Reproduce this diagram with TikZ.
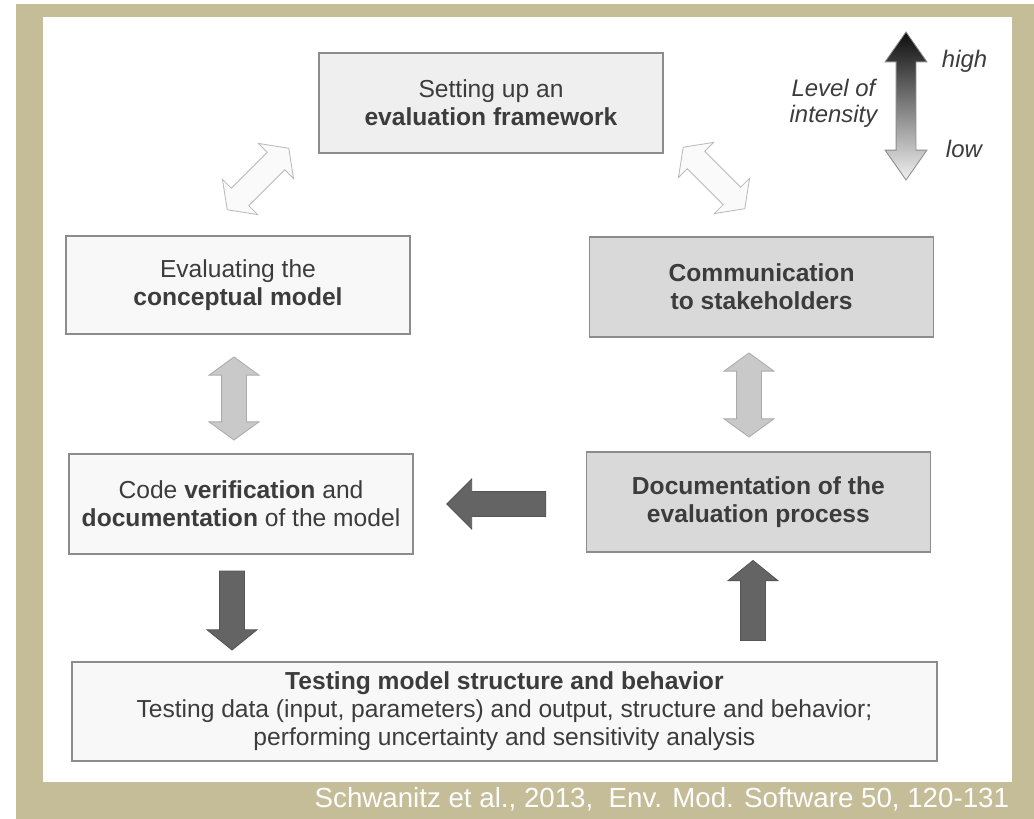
\documentclass[tikz,border=0pt]{standalone}
\usepackage{fontspec}
\setmainfont{Liberation Sans}
\usepackage{tikz}
\usepackage{xcolor}
\usetikzlibrary{positioning, shapes.arrows, calc}
\definecolor{mBeige}{HTML}{C5BC98}
\definecolor{mText}{HTML}{3C3C3C}
\definecolor{mLine}{HTML}{8C8C8C}
\definecolor{mLight}{HTML}{EFEFEF}
\definecolor{mPale}{HTML}{F8F8F8}
\definecolor{mMid}{HTML}{D9D9D9}
\definecolor{mArrow}{HTML}{C9C9C9}
\definecolor{mDark}{HTML}{646464}

\begin{document}
\begin{tikzpicture}[
  stage/.style={draw=mLine, line width=1.2pt, minimum width=8.6cm,
                minimum height=2.5cm, align=center, text=mText, inner sep=0pt,
                font=\fontsize{17.5}{19.9}\selectfont},
  twoway/.style={double arrow, inner xsep=0pt, inner ysep=0.3cm,
                 double arrow head extend=0.3125cm, double arrow tip angle=108,
                 line width=0.6pt},
  oneway/.style={single arrow, inner xsep=0pt, inner ysep=0.3cm,
                 single arrow head extend=0.3125cm, fill=mDark,
                 draw=mDark!85!black, line width=0.6pt},
  note/.style={text=mText, font=\fontsize{17}{18.5}\selectfont\itshape},
]
  \useasboundingbox (0,0) rectangle (25.85,20.475);
  \fill[mBeige] (0.4,0) rectangle (25.85,20.375);
  \fill[white] (1.075,0.925) rectangle (25.3,20.05);

  \node[stage, fill=mLight] (frame) at (12.275,17.9)
    {Setting up an\\\textbf{evaluation framework}};
  \node[stage, fill=mPale, minimum height=2.45cm] (concept) at (5.95,13.35)
    {Evaluating the\\\textbf{conceptual model}};
  \node[stage, fill=mMid] (comm) at (19.04,13.3)
    {\textbf{Communication}\\\textbf{to stakeholders}};
  \node[stage, fill=mPale] (code) at (6.025,7.875)
    {Code \textbf{verification} and\\\textbf{documentation} of the model};
  \node[stage, fill=mMid] (doc) at (18.96,7.925)
    {\textbf{Documentation of the}\\\textbf{evaluation process}};
  \node[stage, fill=mPale, minimum width=21.625cm, minimum height=2.475cm] (test)
    at (12.61,2.6875)
    {\textbf{Testing model structure and behavior}\\
     Testing data (input, parameters) and output, structure and behavior;\\
     performing uncertainty and sensitivity analysis};

  % block arrows between the stages
  \node[twoway, fill=white!98!black, draw=mLine!60, minimum height=2.175cm,
        rotate=45] (diagL) at (6.45,16.0) {};
  \node[twoway, fill=white!98!black, draw=mLine!60, minimum height=2.175cm,
        rotate=-45] (diagR) at (17.85,16.025) {};
  \node[twoway, fill=mArrow, draw=mArrow!85!black, minimum height=2.075cm,
        rotate=90] (vertL) at (5.85,10.5125) {};
  \node[twoway, fill=mArrow, draw=mArrow!85!black, minimum height=2.1cm,
        rotate=90] (vertR) at (18.725,10.6) {};
  \node[oneway, minimum height=1.975cm, single arrow tip angle=102,
        rotate=-90] (down) at (5.8,5.3375) {};
  \node[oneway, minimum height=2.0cm, single arrow tip angle=102,
        rotate=90] (up) at (18.825,5.3375) {};
  \node[oneway, minimum height=2.475cm, single arrow tip angle=90,
        rotate=180] (back) at (12.5625,7.875) {};

  % intensity scale
  \node[double arrow, inner xsep=0pt, inner ysep=0.2375cm,
        double arrow head extend=0.275cm, double arrow tip angle=70,
        minimum height=3.7cm, rotate=90, top color=black!95,
        bottom color=mLight!90!white, draw=mLine, line width=0.6pt]
    (scale) at (22.65,17.825) {};
  \node[note, align=center] (level) at (20.8375,17.9) {Level of\\intensity};
  \node[note, anchor=base west] (high) at (23.425,18.775) {high};
  \node[note, anchor=base west] (low) at (23.525,16.525) {low};

  \node[text=white, anchor=base east, font=\fontsize{19.7}{22}\selectfont]
    (cite) at (25.35,0.275)
    {Schwanitz et al., 2013,~ Env. Mod. Software 50, 120-131};
\end{tikzpicture}
\end{document}
